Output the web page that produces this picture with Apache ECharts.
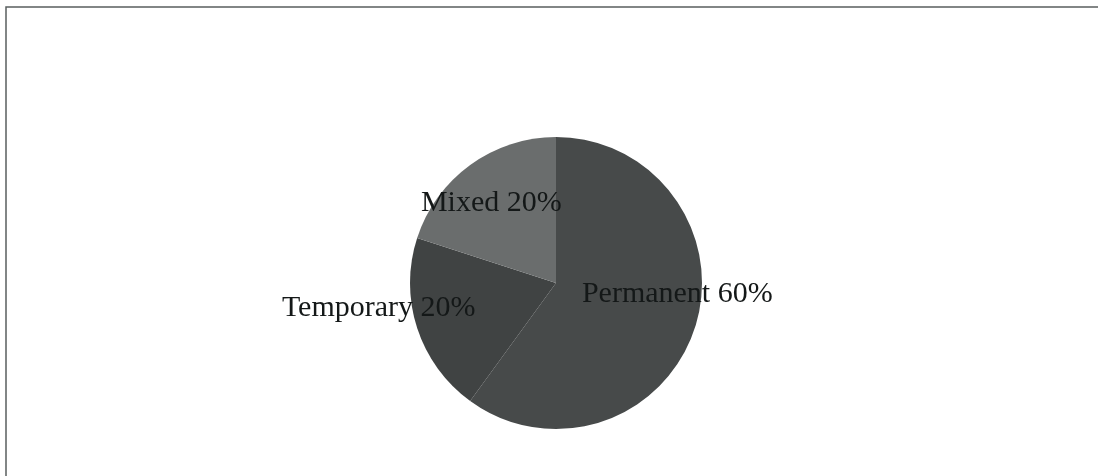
<!DOCTYPE html>
<html>
<head>
<meta charset="utf-8">
<script src="https://cdn.jsdelivr.net/npm/echarts@6/dist/echarts.min.js"></script>
<style>
html,body{margin:0;padding:0;background:#fff;}
#chart{width:1098px;height:476px;}
</style>
</head>
<body>
<div id="chart"></div>
<script>
const categories = ['Permanent', 'Temporary', 'Mixed'];
const values = [60, 20, 20];

const sliceColors = ['#474a4a', '#404343', '#6a6d6d'];
const labelOffsets = [[49, -12], [-105, 2], [-20, -18]];

const chart = echarts.init(document.getElementById('chart'), null, {renderer: 'canvas'});
chart.setOption({
  animation: false,
  backgroundColor: '#ffffff',
  graphic: [{
    type: 'rect',
    shape: {x: 6, y: 7, width: 1100, height: 480},
    style: {fill: 'none', stroke: '#5a5f5f', lineWidth: 1.5},
    silent: true
  }],
  series: [{
    type: 'pie',
    center: [556, 283],
    radius: [0, 146],
    startAngle: 90,
    clockwise: true,
    avoidLabelOverlap: false,
    emphasis: {disabled: true},
    itemStyle: {borderWidth: 0},
    labelLine: {show: false},
    label: {
      show: true,
      position: 'inside',
      fontFamily: 'Liberation Serif',
      fontSize: 30,
      color: '#141818',
      formatter: p => p.name + ' ' + p.value + '%'
    },
    data: categories.map((c, i) => ({
      name: c,
      value: values[i],
      itemStyle: {color: sliceColors[i]},
      label: {offset: labelOffsets[i]}
    }))
  }]
});
</script>
</body>
</html>
